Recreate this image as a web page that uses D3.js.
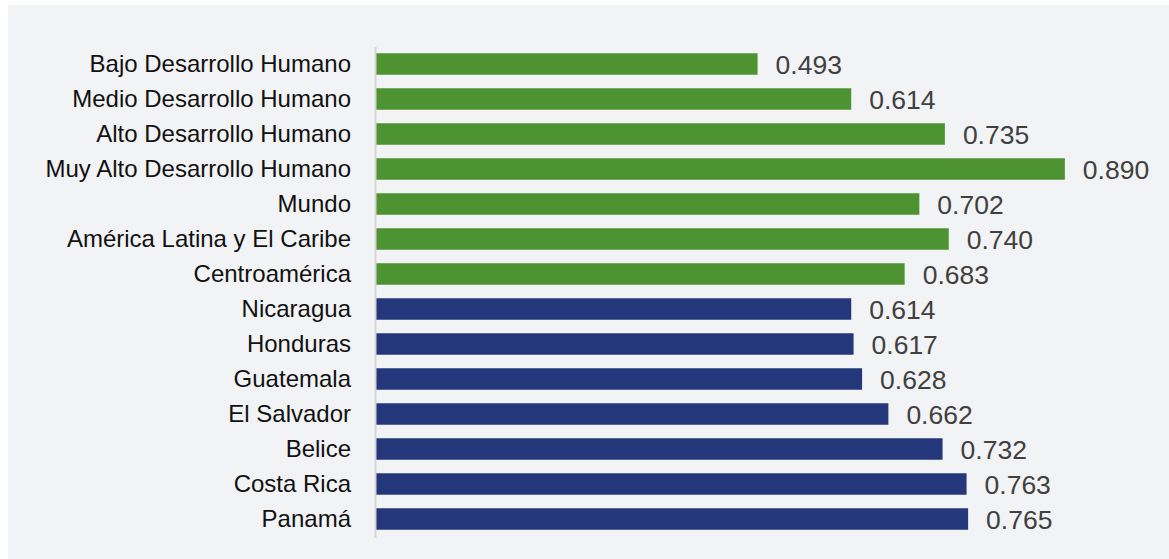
<!DOCTYPE html>
<html>
<head>
<meta charset="utf-8">
<script src="https://cdn.jsdelivr.net/npm/d3@7"></script>
<style>
  body { margin: 0; background: #fff; }
  svg { display: block; }
</style>
</head>
<body>
<svg id="chart"></svg>
<script>
        // Data
        const categories = [
            "Bajo Desarrollo Humano",
            "Medio Desarrollo Humano",
            "Alto Desarrollo Humano",
            "Muy Alto Desarrollo Humano",
            "Mundo",
            "América Latina y El Caribe",
            "Centroamérica",
            "Nicaragua",
            "Honduras",
            "Guatemala",
            "El Salvador",
            "Belice",
            "Costa Rica",
            "Panamá"
        ];
        const values = [0.493, 0.614, 0.735, 0.890, 0.702, 0.740, 0.683,
                        0.614, 0.617, 0.628, 0.662, 0.732, 0.763, 0.765];
        const groups = ["ref", "ref", "ref", "ref", "ref", "ref", "ref",
                        "pais", "pais", "pais", "pais", "pais", "pais", "pais"];

        const width = 1169;
        const height = 559;
        const colors = { ref: "#4e9332", pais: "#24377a" };

        const svg = d3.select('#chart')
            .attr('width', width)
            .attr('height', height);

        // panel background
        svg.append('rect')
            .attr('x', 8).attr('y', 5)
            .attr('width', width - 8).attr('height', height - 5)
            .attr('fill', '#f2f3f5');

        const x = d3.scaleLinear()
            .domain([0, 1])
            .range([376, 376 + 774]);

        const y = d3.scaleBand()
            .domain(categories)
            .range([46.5, 46.5 + 35 * categories.length])
            .paddingInner(0.386)
            .paddingOuter(0.193);

        const font = "'Liberation Sans', Arial, sans-serif";

        // bars
        svg.append('g').selectAll('rect')
            .data(categories)
            .enter().append('rect')
            .attr('x', x(0))
            .attr('y', d => y(d))
            .attr('width', (d, i) => x(values[i]) - x(0))
            .attr('height', y.bandwidth())
            .attr('fill', (d, i) => colors[groups[i]]);

        // axis line
        svg.append('line')
            .attr('x1', 375.5).attr('x2', 375.5)
            .attr('y1', 47).attr('y2', 538)
            .attr('stroke', '#d6d6d6')
            .attr('stroke-width', 2);

        // category labels
        svg.append('g').selectAll('text')
            .data(categories)
            .enter().append('text')
            .attr('x', 351)
            .attr('y', d => y(d) + y.bandwidth() / 2)
            .attr('dy', '0.35em')
            .attr('text-anchor', 'end')
            .style('font-family', font)
            .style('font-size', '24px')
            .style('fill', '#111')
            .text(d => d);

        // value labels
        svg.append('g').selectAll('text')
            .data(categories)
            .enter().append('text')
            .attr('x', (d, i) => x(values[i]) + 18)
            .attr('y', d => y(d) + y.bandwidth() / 2)
            .attr('dy', '0.36em')
            .style('font-family', font)
            .style('font-size', '26.5px')
            .style('fill', '#404040')
            .text((d, i) => values[i].toFixed(3));
</script>
</body>
</html>
